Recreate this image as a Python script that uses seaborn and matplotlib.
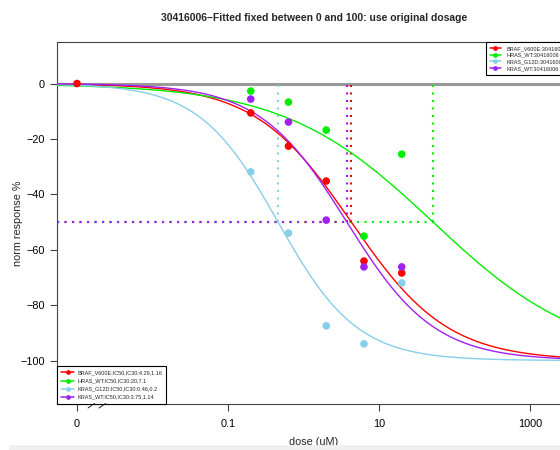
import numpy as np
import pandas as pd
import matplotlib
matplotlib.use("Agg")
import matplotlib.pyplot as plt
import seaborn as sns
from matplotlib.lines import Line2D
from matplotlib.patches import Rectangle

# ---------------- data ----------------
cell_lines = ["BRAF_V600E", "HRAS_WT", "KRAS_G12D", "KRAS_WT"]
colors = ["#FF0000", "#00EE00", "#87CEEB", "#A020F0"]
doses = [0.2, 0.632, 2.0, 6.32, 20.0]
resp_braf = [-10.6, -22.6, -35.2, -64.1, -68.4]
resp_hras = [-2.7, -6.7, -16.8, -55.1, -25.5]
resp_kras_g12d = [-31.9, -54.0, -87.5, -94.0, -72.0]
resp_kras_wt = [-5.6, -13.9, -49.3, -66.2, -66.2]
zero_dose_resp_braf = 0.0
# fitted 4PL parameters (top 0, bottom -100)
fit_ic50 = [4.29, 51.9, 0.46, 3.75]
fit_hill = [0.68, 0.44, 0.83, 0.75]
legend_ic = ["4.29,1.16", "20,7.1", "0.46,0.2", "3.75,1.14"]
x_ticks = [0.001, 0.1, 10, 1000]
x_tick_labels = ["0", "0.1", "10", "1000"]
y_ticks = [0, -20, -40, -60, -80, -100]
title = "30416006\u2013Fitted fixed between 0 and 100: use original dosage"

# ---------------- build tables ----------------
resp_all = [resp_braf, resp_hras, resp_kras_g12d, resp_kras_wt]
pts = pd.DataFrame({
    "line": np.repeat(cell_lines, len(doses)),
    "dose": np.tile(doses, len(cell_lines)),
    "resp": np.concatenate(resp_all),
})
zero_pts = pd.DataFrame({"line": ["BRAF_V600E"], "dose": [x_ticks[0]],
                         "resp": [zero_dose_resp_braf]})
pts = pd.concat([zero_pts, pts], ignore_index=True)

xmin, xmax = 10 ** -3.265, 10 ** 3.543
grid = np.logspace(np.log10(xmin), np.log10(xmax), 400)
curves = []
for name, ic, h in zip(cell_lines, fit_ic50, fit_hill):
    y = -100.0 / (1.0 + (ic / grid) ** h)
    curves.append(pd.DataFrame({"line": name, "dose": grid, "resp": y}))
curves = pd.concat(curves, ignore_index=True)
palette = dict(zip(cell_lines, colors))

# ---------------- figure ----------------
sns.set_theme(style="white")
plt.rcParams["font.family"] = ["Liberation Sans", "DejaVu Sans"]

W, H = 560, 450
L, R, T, B = 57, 571, 42, 404
fig = plt.figure(figsize=(W / 100, H / 100), dpi=100)
fig.patches.append(Rectangle((9 / W, 0), 1, 5 / H, transform=fig.transFigure,
                             facecolor="#f0f0f0", edgecolor="none", zorder=0))
ax = fig.add_axes([L / W, 1 - B / H, (R - L) / W, (B - T) / H])
ax.set_xscale("log")

ax.axhline(0, color="#999999", lw=2.2, zorder=1)

sns.lineplot(data=curves, x="dose", y="resp", hue="line", palette=palette,
             hue_order=cell_lines, lw=1.0, legend=False, ax=ax, zorder=3,
             estimator=None, sort=False)
sns.scatterplot(data=pts, x="dose", y="resp", hue="line", palette=palette,
                hue_order=cell_lines, s=30, edgecolor="none", legend=False,
                ax=ax, zorder=4)

for name, ic, c in zip(cell_lines, fit_ic50, colors):
    ax.plot([ic, ic], [-50, 0], color=c, lw=1.5, ls=(0, (1, 2.6)), zorder=2)
    ax.plot([xmin, ic], [-50, -50], color=c, lw=1.5, ls=(0, (1, 2.6)), zorder=2)

ax.set_xlim(xmin, xmax)
ax.set_ylim(-115.7, 15.0)
ax.set_xticks(x_ticks)
ax.set_xticklabels(x_tick_labels)
ax.minorticks_off()
ax.set_yticks(y_ticks)
ax.set_yticklabels([f"{v}".replace("-", "\u2212") for v in y_ticks])
ax.tick_params(axis="both", which="major", bottom=True, left=True,
               direction="out", length=5, width=0.8, color="#444444",
               labelsize=7.8, labelcolor="black")
ax.tick_params(axis="x", pad=5.5)
ax.tick_params(axis="y", pad=3.6)
for s in ax.spines.values():
    s.set_color("#444444")
    s.set_linewidth(0.8)

ax.set_xlabel("dose (uM)", fontsize=7.8)
ax.set_ylabel("norm response %", fontsize=7.8)
ax.xaxis.set_label_coords(0.5, (B - 442) / (B - T))
ax.xaxis.label.set_va("center")
ax.yaxis.set_label_coords((18 - L) / (R - L), 0.5)
ax.yaxis.label.set_va("center")
ax.set_title(title, fontsize=7.5, fontweight="bold", pad=0,
             y=1 + (T - 18) / (B - T), va="center")

# legends
def handles():
    return [Line2D([], [], color=c, marker="o", markersize=3.4, lw=1.1,
                   markeredgewidth=0) for c in colors]

leg1 = ax.legend(handles(), [f"{n}:IC50,IC30:{v}" for n, v in zip(cell_lines, legend_ic)],
                 loc="lower left", borderaxespad=0, fontsize=4, frameon=True,
                 fancybox=False, edgecolor="black", framealpha=1,
                 handlelength=2.2, handletextpad=0.6, labelspacing=0.55,
                 borderpad=0.8)
leg1.get_frame().set_linewidth(0.8)
ax.add_artist(leg1)
leg2 = ax.legend(handles(), [f"{n}:30416006" for n in cell_lines],
                 loc="upper right", borderaxespad=0, fontsize=4, frameon=True,
                 fancybox=False, edgecolor="black", framealpha=1,
                 handlelength=2.0, handletextpad=1.0, labelspacing=0.3,
                 borderpad=0.7)
leg2.get_frame().set_linewidth(0.8)

# axis break marks
for x0 in (88, 99):
    ax.plot([(x0 - L) / (R - L), (x0 + 6.5 - L) / (R - L)],
            [-4 / (B - T), 0.5 / (B - T)], transform=ax.transAxes,
            color="black", lw=0.6, clip_on=False, zorder=6)

fig.savefig("out.png", dpi=100)
